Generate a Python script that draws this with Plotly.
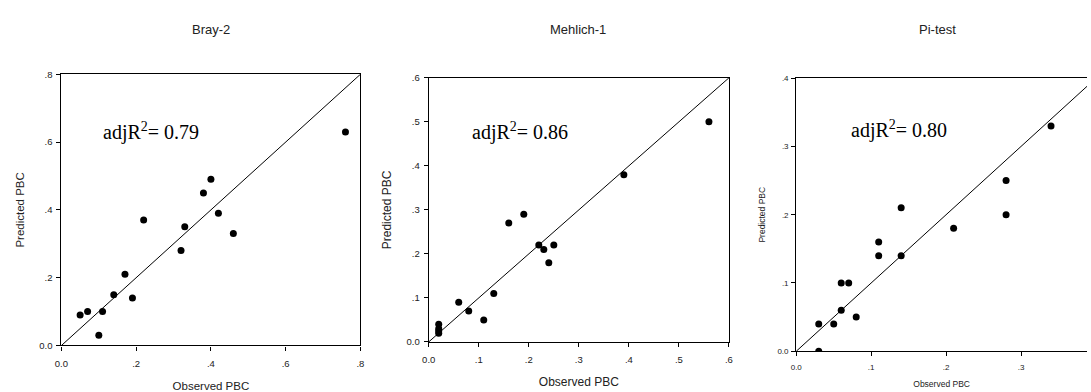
import plotly.graph_objects as go

# ---------------- data ----------------
titles = ["Bray-2", "Mehlich-1", "Pi-test"]
r2_labels = ["0.79", "0.86", "0.80"]

bray_obs = [0.05, 0.07, 0.11, 0.10, 0.14, 0.17, 0.19, 0.22, 0.32, 0.33, 0.38, 0.40, 0.42, 0.46, 0.76]
bray_pred = [0.09, 0.10, 0.10, 0.03, 0.15, 0.21, 0.14, 0.37, 0.28, 0.35, 0.45, 0.49, 0.39, 0.33, 0.63]

mehlich_obs = [0.02, 0.02, 0.02, 0.02, 0.06, 0.08, 0.11, 0.13, 0.16, 0.19, 0.22, 0.23, 0.25, 0.24, 0.39, 0.56]
mehlich_pred = [0.02, 0.025, 0.03, 0.04, 0.09, 0.07, 0.05, 0.11, 0.27, 0.29, 0.22, 0.21, 0.22, 0.18, 0.38, 0.50]

pi_obs = [0.03, 0.03, 0.05, 0.06, 0.06, 0.07, 0.08, 0.11, 0.11, 0.14, 0.14, 0.21, 0.28, 0.28, 0.34]
pi_pred = [0.00, 0.04, 0.04, 0.06, 0.10, 0.10, 0.05, 0.14, 0.16, 0.21, 0.14, 0.18, 0.25, 0.20, 0.33]

bray_ticks = [0.0, 0.2, 0.4, 0.6, 0.8]
bray_ticktext = ["0.0", ".2", ".4", ".6", ".8"]
mehlich_ticks = [0.0, 0.1, 0.2, 0.3, 0.4, 0.5, 0.6]
mehlich_ticktext = ["0.0", ".1", ".2", ".3", ".4", ".5", ".6"]
pi_ticks = [0.0, 0.1, 0.2, 0.3, 0.4]
pi_ticktext = ["0.0", ".1", ".2", ".3", ".4"]

bray_line = [0.0, 0.8]
mehlich_line = [0.0, 0.6]
pi_line = [0.0, 0.4]

x_title = "Observed PBC"
y_title = "Predicted PBC"

# ---------------- figure ----------------
W, H = 1091, 392
fig = go.Figure()

panels = [
    dict(obs=bray_obs, pred=bray_pred, line=bray_line, ax=""),
    dict(obs=mehlich_obs, pred=mehlich_pred, line=mehlich_line, ax="2"),
    dict(obs=pi_obs, pred=pi_pred, line=pi_line, ax="3"),
]

for p in panels:
    fig.add_trace(go.Scatter(x=p["line"], y=p["line"], mode="lines",
                             line=dict(color="black", width=1),
                             xaxis="x" + p["ax"], yaxis="y" + p["ax"],
                             showlegend=False, hoverinfo="skip"))
    fig.add_trace(go.Scatter(x=p["obs"], y=p["pred"], mode="markers",
                             marker=dict(color="black", size=7),
                             xaxis="x" + p["ax"], yaxis="y" + p["ax"],
                             showlegend=False))

def xd(a, b):
    return [a / W, b / W]

def yd(top, bottom):
    return [1 - bottom / H, 1 - top / H]

SANS = "Liberation Sans, Arial"
def f(size):
    return dict(family=SANS, size=size, color="#222")

common = dict(showline=True, linecolor="black", linewidth=1.2, ticks="outside",
              ticklen=4, tickcolor="black", showgrid=False, zeroline=False)

fig.update_layout(
    width=W, height=H,
    margin=dict(l=0, r=0, t=0, b=0),
    paper_bgcolor="white", plot_bgcolor="white",
    xaxis=dict(domain=xd(55, 357), range=[0, 0.8], tickvals=bray_ticks, ticktext=bray_ticktext,
               tickfont=f(9.5), ticklabelstandoff=5,
               title=dict(text=x_title, font=f(11.5), standoff=15),
               anchor="y", mirror=True, **common),
    yaxis=dict(domain=yd(71, 353), range=[0, 0.8], tickvals=bray_ticks, ticktext=bray_ticktext,
               tickfont=f(9.5), ticklabelstandoff=2,
               title=dict(text=y_title, font=f(11.5), standoff=12),
               anchor="x", mirror=True, **common),
    xaxis2=dict(domain=xd(426, 729.3), range=[0, 0.6], tickvals=mehlich_ticks, ticktext=mehlich_ticktext,
                tickfont=f(9.5), ticklabelstandoff=5,
                title=dict(text=x_title, font=f(12), standoff=13),
                anchor="y2", mirror=True, **common),
    yaxis2=dict(domain=yd(74.7, 349.3), range=[0, 0.6], tickvals=mehlich_ticks, ticktext=mehlich_ticktext,
                tickfont=f(9.5), ticklabelstandoff=2,
                title=dict(text=y_title, font=f(12), standoff=12),
                anchor="x2", mirror=True, **common),
    xaxis3=dict(domain=xd(797.3, 1091), range=[0, 0.388], tickvals=pi_ticks, ticktext=pi_ticktext,
                tickfont=f(8), ticklabelstandoff=4,
                title=dict(text=x_title, font=f(8.5), standoff=10),
                anchor="y3", mirror=True, **common),
    yaxis3=dict(domain=yd(75, 359), range=[0, 0.4], tickvals=pi_ticks, ticktext=pi_ticktext,
                tickfont=f(8), ticklabelstandoff=1,
                title=dict(text=y_title, font=f(8.5), standoff=10),
                anchor="x3", mirror=False, **common),
)

# panel titles
title_pos = [206, 577, 940]
for t, xp in zip(titles, title_pos):
    fig.add_annotation(text=t, x=xp / W, y=1 - 24 / H, xref="paper", yref="paper",
                       showarrow=False, xanchor="center", yanchor="middle",
                       font=dict(family=SANS, size=13, color="#222"))

# adjR2 labels
r2_pos = [(95, 131), (468, 131), (851, 128)]
for lab, (xp, yp) in zip(r2_labels, r2_pos):
    fig.add_annotation(text="adjR<sup>2</sup>= " + lab, x=xp / W, y=1 - yp / H,
                       xref="paper", yref="paper", showarrow=False,
                       xanchor="left", yanchor="middle",
                       font=dict(family="Liberation Serif, Times New Roman", size=20, color="black"))

fig.write_html("out.html")
